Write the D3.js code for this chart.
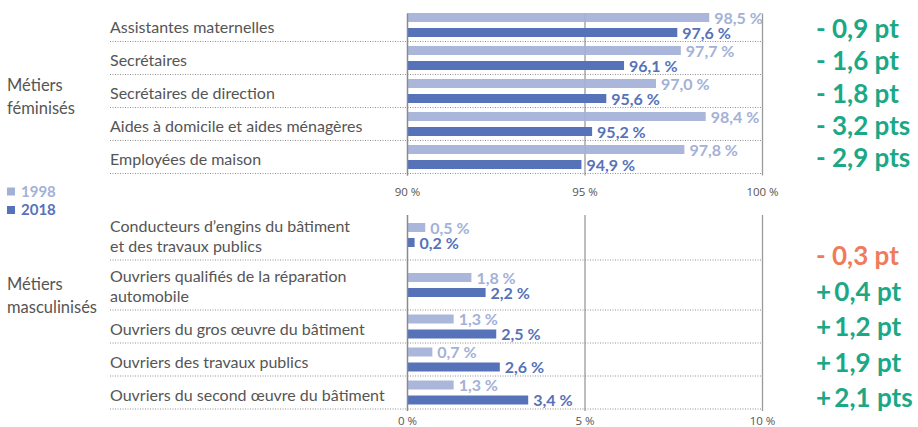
<!DOCTYPE html>
<html>
<head>
<meta charset="utf-8">
<script src="https://cdn.jsdelivr.net/npm/d3@7"></script>
<style>
  body { margin: 0; background: #fff; }
  svg { display: block; font-family: Lato, "Open Sans", sans-serif; }
</style>
</head>
<body>
<svg id="chart" width="918" height="427"></svg>
<script>
// Data
const femCategories = [
  ['Assistantes maternelles'],
  ['Secrétaires'],
  ['Secrétaires de direction'],
  ['Aides à domicile et aides ménagères'],
  ['Employées de maison']
];
const fem1998 = [98.5, 97.7, 97.0, 98.4, 97.8];
const fem2018 = [97.6, 96.1, 95.6, 95.2, 94.9];
const femDeltas = ['- 0,9 pt', '- 1,6 pt', '- 1,8 pt', '- 3,2 pts', '- 2,9 pts'];
const femTicks = [90, 95, 100];

const masCategories = [
  ['Conducteurs d\u2019engins du bâtiment', 'et des travaux publics'],
  ['Ouvriers qualifiés de la réparation', 'automobile'],
  ['Ouvriers du gros œuvre du bâtiment'],
  ['Ouvriers des travaux publics'],
  ['Ouvriers du second œuvre du bâtiment']
];
const mas1998 = [0.5, 1.8, 1.3, 0.7, 1.3];
const mas2018 = [0.2, 2.2, 2.5, 2.6, 3.4];
const masDeltas = ['- 0,3 pt', '+\u20090,4 pt', '+\u20091,2 pt', '+\u20091,9 pt', '+\u20092,1 pts'];
const masTicks = [0, 5, 10];

const years = ['1998', '2018'];

// Styles
const colors = { '1998': '#a3b1d7', '2018': '#5672b9' };
const textGray = '#555';
const green = '#1aa886';
const orange = '#f07b5c';

const svg = d3.select('#chart');
const labelX = 110;
const plotLeft = 407.5, plotRight = 762.5;

const fmt = v => d3.format('.1f')(v).replace('.', ',') + ' %';

function drawPanel(opts) {
  const { categories, v1998, v2018, deltas, deltaColors, ticks, domain, top, axisY, deltaStart, deltaStep } = opts;

  const x = d3.scaleLinear().domain(domain).range([plotLeft, plotRight]);

  // Row heights from number of label lines
  const heights = categories.map(c => c.length === 1 ? 33 : 50);
  const rowTops = heights.map((h, i) => top + d3.sum(heights.slice(0, i)));
  const bottom = top + d3.sum(heights);
  const inner = d3.scaleBand().domain(years).range([-12, 12]).paddingInner(0.4);

  const g = svg.append('g');

  // Vertical grid lines
  g.selectAll('line.grid')
    .data(ticks)
    .join('line')
    .attr('class', 'grid')
    .attr('x1', d => x(d)).attr('x2', d => x(d))
    .attr('y1', top + 5).attr('y2', bottom + 2)
    .attr('stroke', '#9a9a9a')
    .attr('stroke-width', 1.3);

  // Tick labels
  g.selectAll('text.tick')
    .data(ticks)
    .join('text')
    .attr('class', 'tick')
    .attr('x', d => x(d))
    .attr('y', axisY)
    .attr('text-anchor', 'middle')
    .attr('font-size', 11.5)
    .attr('fill', textGray)
    .attr('font-family', '"Liberation Sans Narrow", "Open Sans", sans-serif')
    .text(d => d + ' %');

  // Row separators (dotted)
  g.selectAll('line.sep')
    .data(heights)
    .join('line')
    .attr('class', 'sep')
    .attr('x1', labelX).attr('x2', plotRight)
    .attr('y1', (h, i) => rowTops[i] + h).attr('y2', (h, i) => rowTops[i] + h)
    .attr('stroke', '#777')
    .attr('stroke-width', 0.8)
    .attr('stroke-dasharray', '1,1.5');

  const rows = categories.map((c, i) => ({
    lines: c,
    top: rowTops[i],
    h: heights[i],
    center: rowTops[i] + heights[i] / 2,
    vals: [{ year: '1998', v: v1998[i] }, { year: '2018', v: v2018[i] }]
  }));

  // Category labels
  const lab = g.selectAll('text.cat')
    .data(rows)
    .join('text')
    .attr('class', 'cat')
    .attr('font-size', 16)
    .attr('fill', textGray);
  lab.selectAll('tspan')
    .data(r => r.lines.map((t, j) => ({ t, y: r.top + r.h - 8.5 - (r.lines.length - 1 - j) * 20 })))
    .join('tspan')
    .attr('x', labelX)
    .attr('y', d => d.y)
    .text(d => d.t);

  // Bars
  const rowG = g.selectAll('g.row')
    .data(rows)
    .join('g')
    .attr('class', 'row')
    .attr('transform', r => `translate(0,${r.center})`);

  rowG.selectAll('rect')
    .data(r => r.vals)
    .join('rect')
    .attr('x', x(domain[0]))
    .attr('y', d => inner(d.year))
    .attr('width', d => x(d.v) - x(domain[0]))
    .attr('height', inner.bandwidth())
    .attr('fill', d => colors[d.year])
    .attr('fill-opacity', d => d.year === '1998' ? 0.92 : 1);

  rowG.selectAll('text')
    .data(r => r.vals)
    .join('text')
    .attr('x', d => x(d.v) + 5)
    .attr('y', d => inner(d.year) + inner.bandwidth() / 2)
    .attr('dy', '0.38em')
    .attr('font-size', 16)
    .attr('font-weight', 700)
    .attr('fill', d => colors[d.year])
    .text(d => fmt(d.v));

  // Left vertical axis line over bars
  g.append('line')
    .attr('x1', x(domain[0])).attr('x2', x(domain[0]))
    .attr('y1', top + 5).attr('y2', bottom + 2)
    .attr('stroke', '#8a8a8a')
    .attr('stroke-width', 1.3);

  // Deltas
  const dy = d3.scaleLinear().domain([0, 1]).range([deltaStart, deltaStart + deltaStep]);
  g.selectAll('text.delta')
    .data(deltas)
    .join('text')
    .attr('class', 'delta')
    .attr('x', 816)
    .attr('y', (d, i) => dy(i))
    .attr('font-size', 26)
    .attr('font-weight', 700)
    .attr('fill', (d, i) => deltaColors[i])
    .text(d => d);

  return { top, bottom };
}

const p1 = drawPanel({
  categories: femCategories, v1998: fem1998, v2018: fem2018, deltas: femDeltas,
  deltaColors: femDeltas.map(() => green),
  ticks: femTicks, domain: [90, 100], top: 8.5, axisY: 196,
  deltaStart: 38, deltaStep: 32.25
});
const p2 = drawPanel({
  categories: masCategories, v1998: mas1998, v2018: mas2018, deltas: masDeltas,
  deltaColors: masDeltas.map(d => d.startsWith('+') ? green : orange),
  ticks: masTicks, domain: [0, 10], top: 210, axisY: 425,
  deltaStart: 265, deltaStep: 35.5
});

// Group labels
const groups = [
  { lines: ['Métiers', 'féminisés'], y: (p1.top + p1.bottom) / 2 },
  { lines: ['Métiers', 'masculinisés'], y: (p2.top + p2.bottom) / 2 - 20 }
];
const gl = svg.selectAll('text.group')
  .data(groups)
  .join('text')
  .attr('class', 'group')
  .attr('font-size', 16.5)
  .attr('fill', textGray);
gl.selectAll('tspan')
  .data(d => d.lines.map((t, j) => ({ t, y: d.y + j * 23 })))
  .join('tspan')
  .attr('x', 7)
  .attr('y', d => d.y)
  .text(d => d.t);

// Legend
const leg = svg.selectAll('g.legend')
  .data(years)
  .join('g')
  .attr('class', 'legend')
  .attr('transform', (d, i) => `translate(7,${191.5 + i * 18.5})`);
leg.append('rect')
  .attr('x', 0).attr('y', -4)
  .attr('width', 8).attr('height', 8)
  .attr('fill', d => colors[d]);
leg.append('text')
  .attr('x', 14)
  .attr('dy', '0.36em')
  .attr('font-size', 15)
  .attr('font-weight', 700)
  .attr('fill', d => colors[d])
  .text(d => d);
</script>
</body>
</html>
